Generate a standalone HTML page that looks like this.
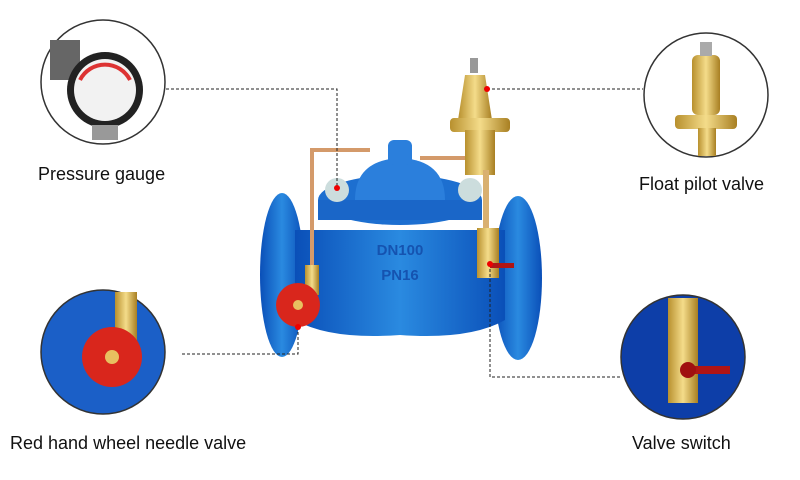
<!DOCTYPE html>
<html><head><meta charset="utf-8"><style>
html,body{margin:0;padding:0;background:#fff;width:800px;height:480px;overflow:hidden;font-family:"Liberation Sans",sans-serif}
.l{position:absolute;font-size:18px;color:#111}
</style></head><body>
<svg width="800" height="480" style="position:absolute;left:0;top:0">
<defs>
<linearGradient id="blue" x1="0" x2="1"><stop offset="0" stop-color="#0a4fb8"/><stop offset="0.5" stop-color="#2a8ae0"/><stop offset="1" stop-color="#0a4fb8"/></linearGradient>
<linearGradient id="brass" x1="0" x2="1"><stop offset="0" stop-color="#b8902e"/><stop offset="0.5" stop-color="#f4dc8a"/><stop offset="1" stop-color="#a87f22"/></linearGradient>
</defs>
<!-- circles -->
<circle cx="103" cy="82" r="62" fill="#fff" stroke="#333" stroke-width="1.5"/>
<rect x="50" y="40" width="30" height="40" fill="#666"/>
<circle cx="105" cy="90" r="38" fill="#222"/><circle cx="105" cy="90" r="31" fill="#f2f2f2"/>
<path d="M80 80 A28 28 0 0 1 130 80" stroke="#d33" stroke-width="4" fill="none"/>
<rect x="92" y="125" width="26" height="15" fill="#999"/>
<circle cx="706" cy="95" r="62" fill="#fff" stroke="#333" stroke-width="1.5"/>
<rect x="692" y="55" width="28" height="60" rx="6" fill="url(#brass)"/>
<rect x="675" y="115" width="62" height="14" rx="4" fill="url(#brass)"/>
<rect x="698" y="128" width="18" height="28" fill="url(#brass)"/>
<rect x="700" y="42" width="12" height="14" fill="#aaa"/>
<circle cx="103" cy="352" r="62" fill="#1b5fc7" stroke="#333" stroke-width="1.5"/>
<rect x="115" y="292" width="22" height="60" fill="url(#brass)"/>
<circle cx="112" cy="357" r="30" fill="#d9261c"/><circle cx="112" cy="357" r="7" fill="#e8c060"/>
<circle cx="683" cy="357" r="62" fill="#0d3ea8" stroke="#333" stroke-width="1.5"/>
<rect x="668" y="298" width="30" height="105" fill="url(#brass)"/>
<rect x="690" y="366" width="40" height="8" fill="#b01515"/>
<circle cx="688" cy="370" r="8" fill="#a01010"/>
<!-- valve -->
<ellipse cx="282" cy="275" rx="22" ry="82" fill="url(#blue)"/>
<ellipse cx="518" cy="278" rx="24" ry="82" fill="url(#blue)"/>
<path d="M295 230 L505 230 L505 320 Q470 340 400 335 Q330 340 295 320 Z" fill="url(#blue)"/>
<ellipse cx="400" cy="200" rx="82" ry="25" fill="#1d6fd0"/>
<rect x="318" y="200" width="164" height="20" fill="#1a66c8"/>
<path d="M355 200 Q355 160 400 158 Q445 160 445 200 Z" fill="#2b7fdc"/>
<rect x="388" y="140" width="24" height="25" rx="6" fill="#2b7fdc"/>
<circle cx="337" cy="190" r="12" fill="#cdd"/><circle cx="470" cy="190" r="12" fill="#cdd"/>
<text x="400" y="255" font-size="15" fill="#1553b0" text-anchor="middle" font-weight="bold">DN100</text>
<text x="400" y="280" font-size="15" fill="#1553b0" text-anchor="middle" font-weight="bold">PN16</text>
<path d="M312 290 L312 150 L370 150" stroke="#d49a6a" stroke-width="4" fill="none"/>
<path d="M420 158 L470 158" stroke="#d49a6a" stroke-width="4"/>
<rect x="305" y="265" width="14" height="30" fill="url(#brass)"/>
<circle cx="298" cy="305" r="22" fill="#d9261c"/><circle cx="298" cy="305" r="5" fill="#e8c060"/>
<rect x="470" y="58" width="8" height="15" fill="#999"/>
<path d="M465 75 L485 75 L492 120 L458 120 Z" fill="url(#brass)"/>
<rect x="450" y="118" width="60" height="14" rx="4" fill="url(#brass)"/>
<rect x="465" y="130" width="30" height="45" fill="url(#brass)"/>
<rect x="483" y="170" width="6" height="60" fill="#d9b070"/>
<rect x="477" y="228" width="22" height="50" fill="url(#brass)"/>
<rect x="490" y="263" width="24" height="5" fill="#b01515"/>
<!-- dashed -->
<g stroke="#222" stroke-width="1" stroke-dasharray="3,2" fill="none">
<path d="M166 89 L337 89 L337 188"/>
<path d="M487 89 L643 89"/>
<path d="M298 327 L298 354 L180 354"/>
<path d="M490 264 L490 377 L620 377"/>
</g>
<g fill="#e00"><circle cx="337" cy="188" r="3"/><circle cx="487" cy="89" r="3"/><circle cx="298" cy="327" r="3"/><circle cx="490" cy="264" r="3"/></g>
</svg>
<div class="l" style="left:38px;top:164px">Pressure gauge</div>
<div class="l" style="left:639px;top:174px">Float pilot valve</div>
<div class="l" style="left:10px;top:433px">Red hand wheel needle valve</div>
<div class="l" style="left:632px;top:433px">Valve switch</div>
</body></html>
